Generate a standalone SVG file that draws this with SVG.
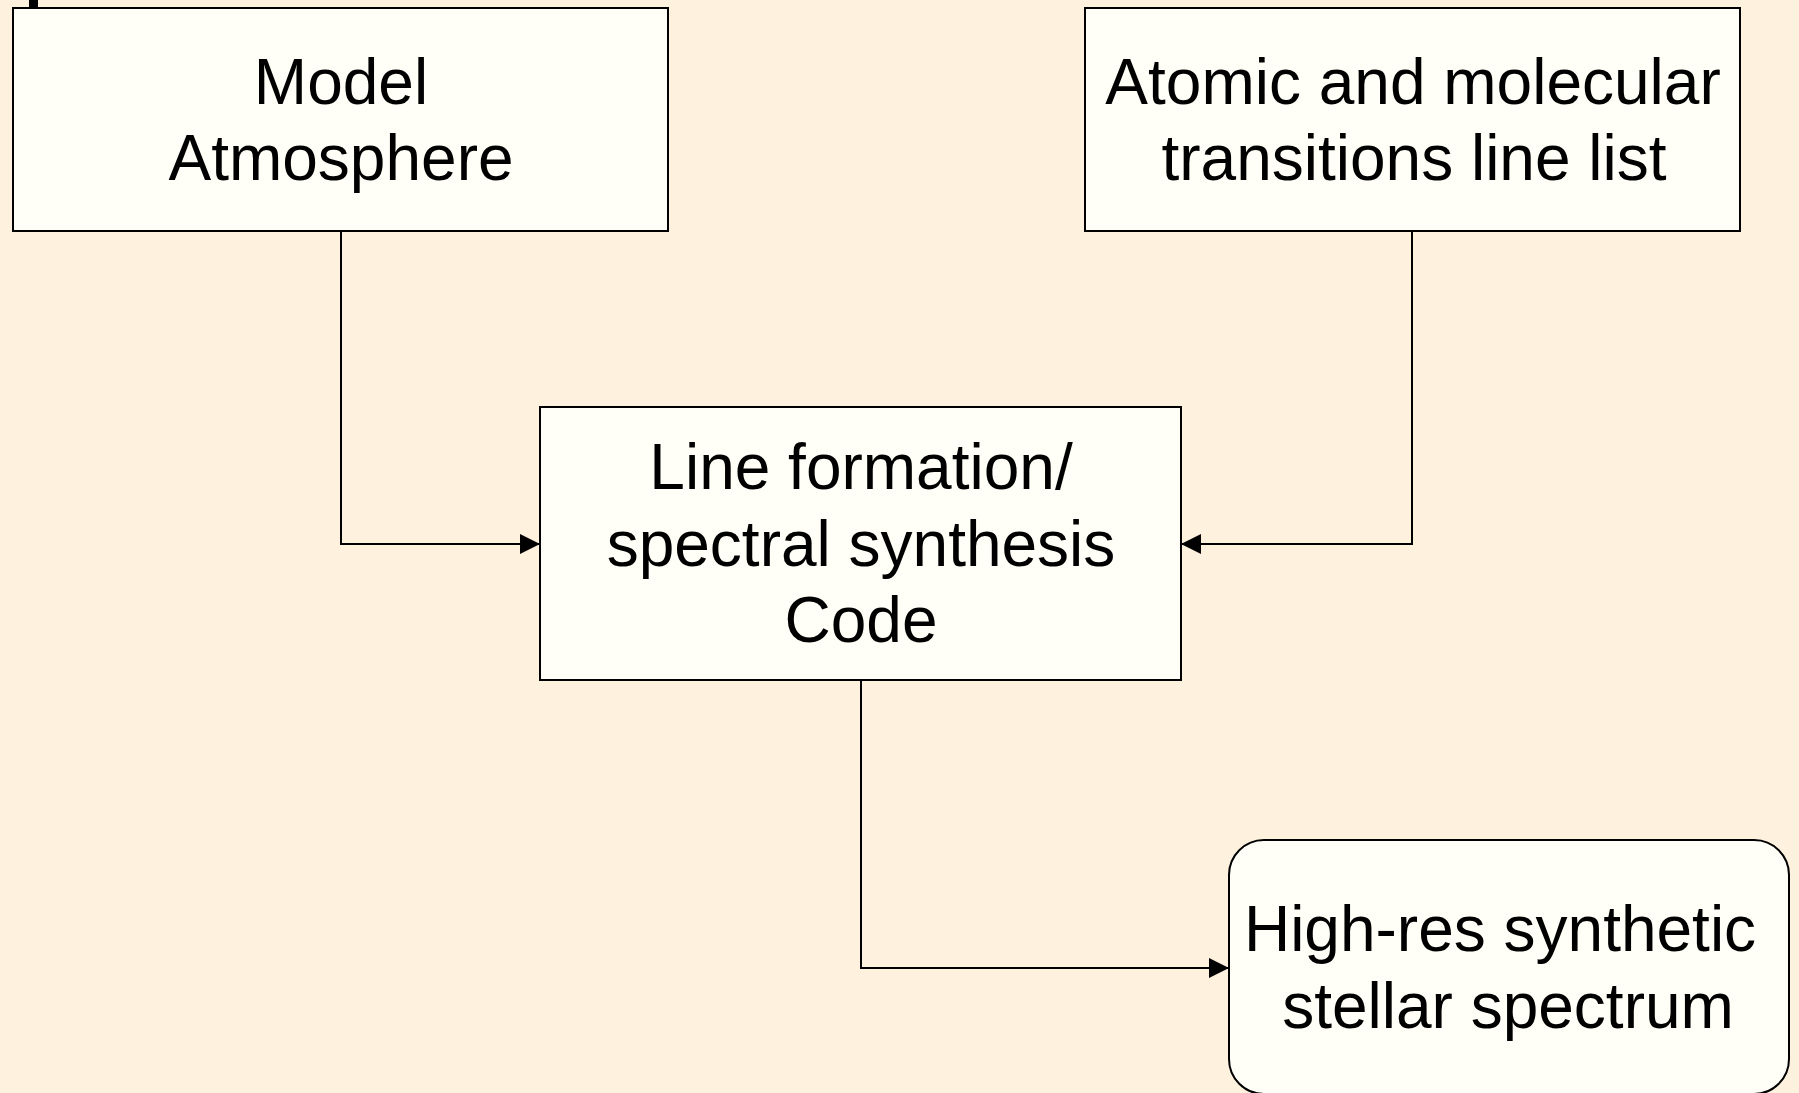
<svg xmlns="http://www.w3.org/2000/svg" width="1799" height="1093" viewBox="0 0 1799 1093">
  <style>
    .box { fill: #FFFFF8; stroke: #000; stroke-width: 2; }
    .lbl { font-family: "Liberation Sans", Arial, sans-serif; font-size: 64px; fill: #000; text-anchor: middle; }
    .conn { fill: none; stroke: #000; stroke-width: 2; }
  </style>
  <defs>
    <marker id="arrow" viewBox="0 0 20 20" refX="20" refY="10" markerWidth="20" markerHeight="20" markerUnits="userSpaceOnUse" orient="auto">
      <path d="M0,0 L20,10 L0,20 Z" fill="#000"/>
    </marker>
  </defs>
  <rect x="0" y="0" width="1799" height="1093" fill="#FEF1DE"/>
  <rect x="29" y="0" width="9" height="7" fill="#000"/>

  <g id="connectors">
    <path class="conn" d="M341,231 V544 H540" marker-end="url(#arrow)"/>
    <path class="conn" d="M1412,231 V544 H1181" marker-end="url(#arrow)"/>
    <path class="conn" d="M861,680 V968 H1229" marker-end="url(#arrow)"/>
  </g>

  <g id="model-atmosphere">
    <rect class="box" x="13" y="8" width="655" height="223"/>
    <text class="lbl" x="341" y="104">Model</text>
    <text class="lbl" x="341" y="180">Atmosphere</text>
  </g>

  <g id="line-list">
    <rect class="box" x="1085" y="8" width="655" height="223"/>
    <text class="lbl" x="1413" y="104">Atomic and molecular</text>
    <text class="lbl" x="1414" y="180">transitions line list</text>
  </g>

  <g id="synthesis-code">
    <rect class="box" x="540" y="407" width="641" height="273"/>
    <text class="lbl" x="861" y="489">Line formation/</text>
    <text class="lbl" x="861" y="566">spectral synthesis</text>
    <text class="lbl" x="861" y="642">Code</text>
  </g>

  <g id="synthetic-spectrum">
    <rect class="box" x="1229" y="840" width="560" height="254" rx="35" ry="35"/>
    <text class="lbl" x="1500" y="951">High-res synthetic</text>
    <text class="lbl" x="1508" y="1028">stellar spectrum</text>
  </g>
</svg>
